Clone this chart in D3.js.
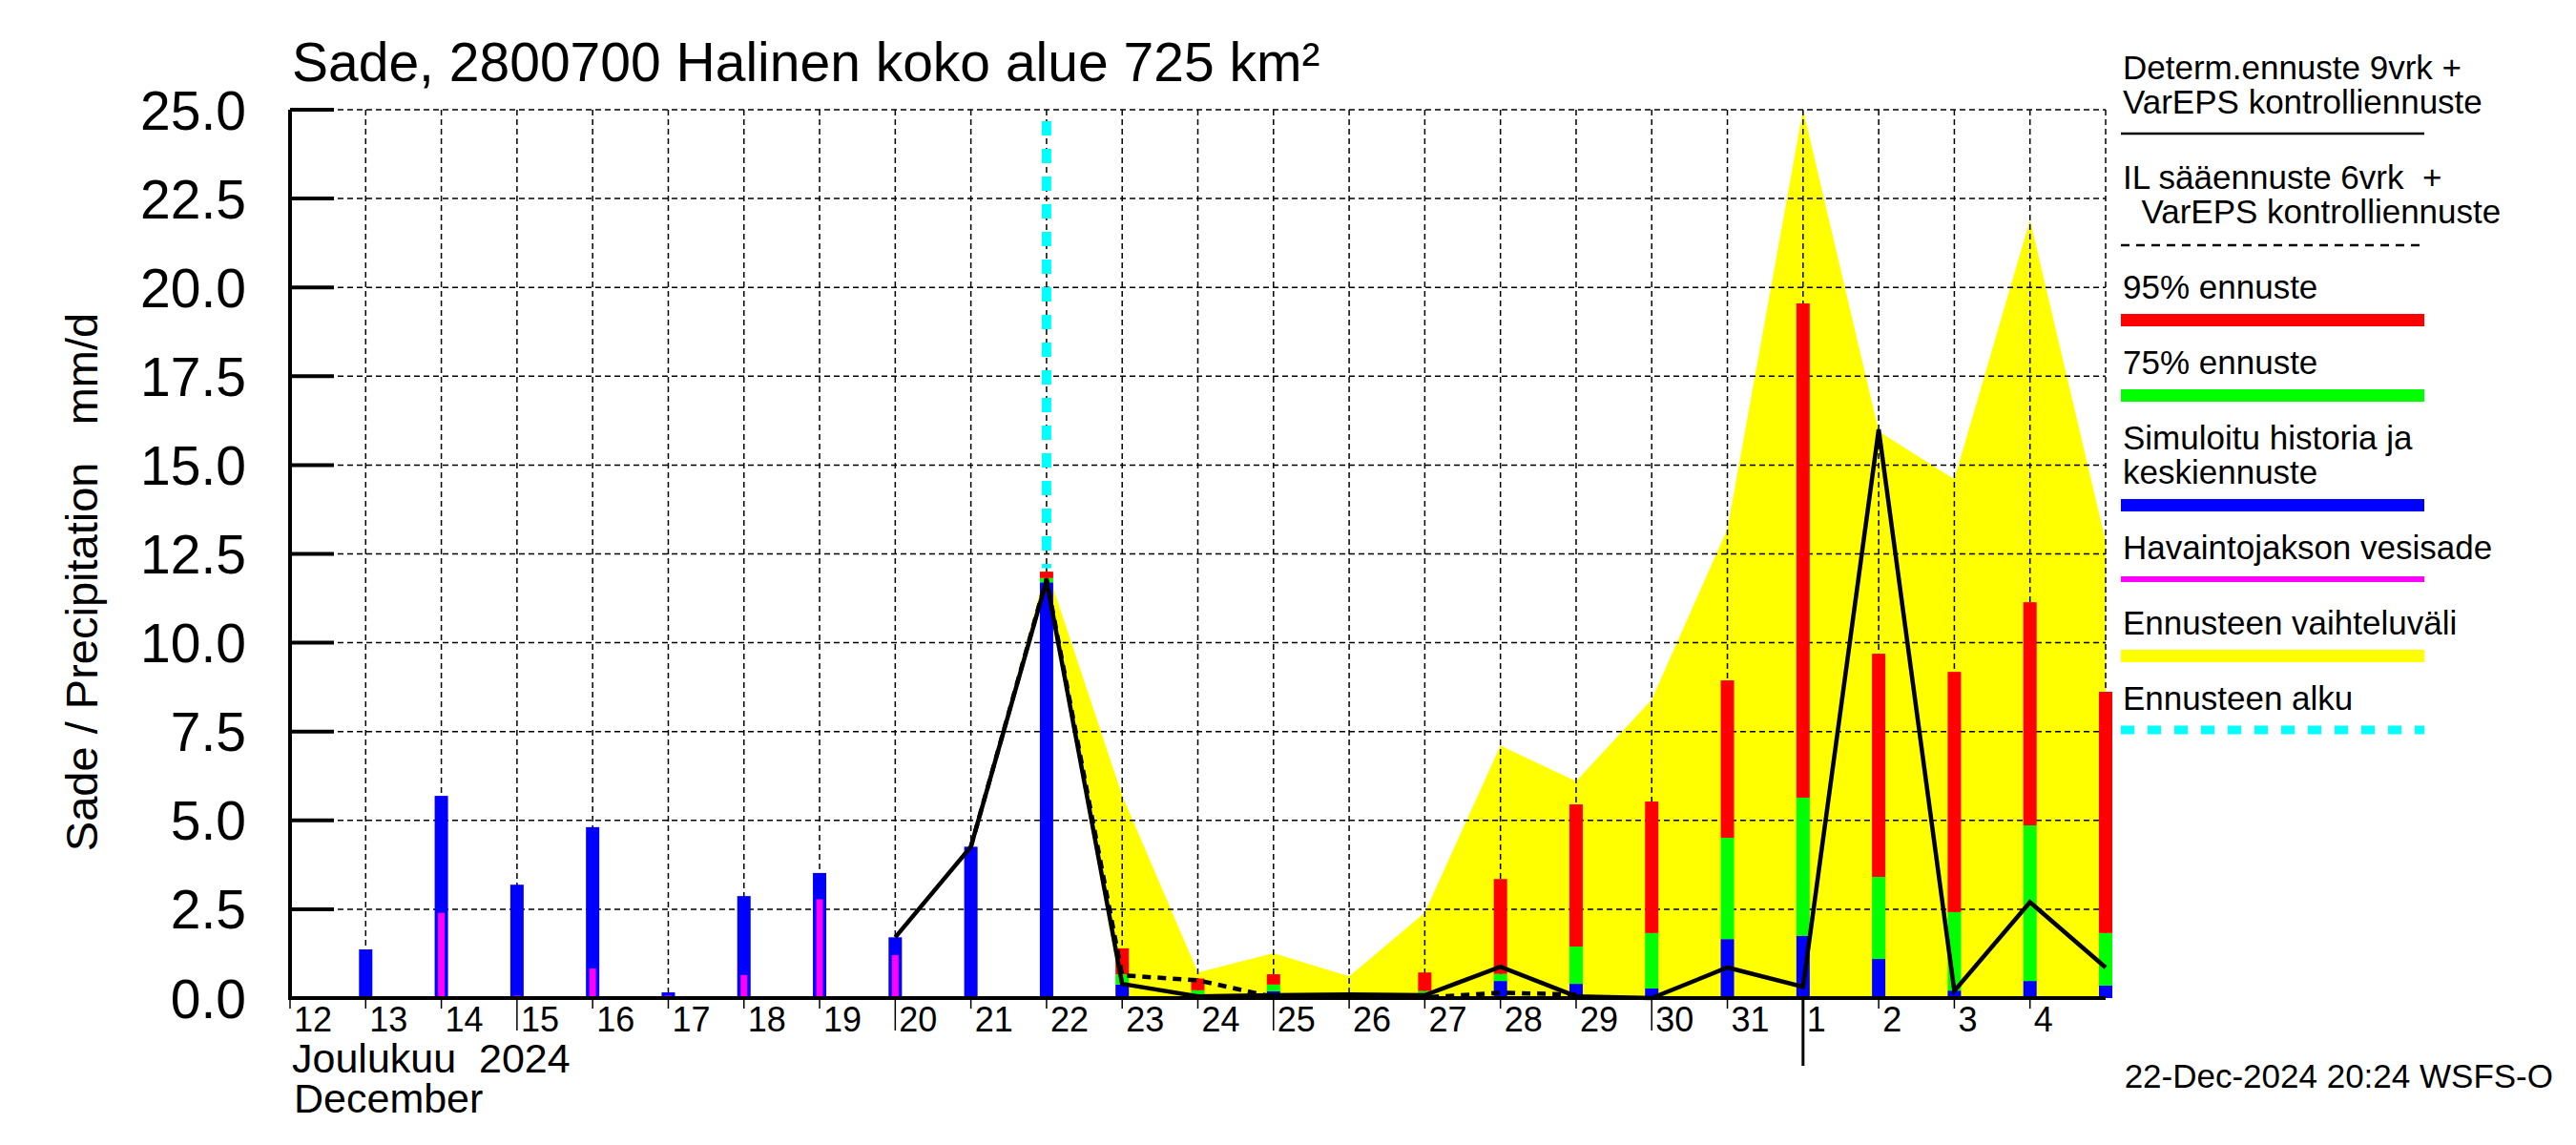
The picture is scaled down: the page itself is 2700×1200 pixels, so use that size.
<!DOCTYPE html>
<html>
<head>
<meta charset="utf-8">
<script src="https://cdn.jsdelivr.net/npm/d3@7"></script>
<style>
body { margin: 0; background: #fff; }
text { font-family: "Liberation Sans", Arial, sans-serif; fill: #000; }
</style>
</head>
<body>
<script>
// observed period (simulated precip + observed water precip)
var histDays = ["2024-12-13","2024-12-14","2024-12-15","2024-12-16","2024-12-17","2024-12-18","2024-12-19","2024-12-20","2024-12-21"]
var histSim  = [1.37, 5.69, 3.19, 4.81, 0.16, 2.87, 3.52, 1.71, 4.26]
var histObs  = [0.05, 2.40, 0.07, 0.83, 0.07, 0.65, 2.78, 1.21, 0]

// forecast bars
var fcDays = ["2024-12-22","2024-12-23","2024-12-24","2024-12-25","2024-12-26","2024-12-27","2024-12-28","2024-12-29","2024-12-30","2024-12-31","2025-01-01","2025-01-02","2025-01-03","2025-01-04","2025-01-05"]
var fcMean = [11.70, 0.38, 0.10, 0.19, 0.02, 0.10, 0.48, 0.40, 0.27, 1.66, 1.75, 1.10, 0.21, 0.48, 0.35]
var fc75   = [11.82, 0.67, 0.22, 0.38, 0.05, 0.20, 0.68, 1.45, 1.83, 4.51, 5.64, 3.41, 2.42, 4.86, 1.83]
var fc95   = [12.00, 1.40, 0.55, 0.67, 0.10, 0.72, 3.35, 5.45, 5.53, 8.94, 19.55, 9.69, 9.18, 11.14, 8.62]

// forecast range (yellow)
var bandDays = ["2024-12-21","2024-12-22","2024-12-23","2024-12-24","2024-12-25","2024-12-26","2024-12-27","2024-12-28","2024-12-29","2024-12-30","2024-12-31","2025-01-01","2025-01-02","2025-01-03","2025-01-04","2025-01-05"]
var bandMin = [4.26, 11.70, 0, 0, 0, 0, 0, 0, 0, 0, 0, 0, 0, 0, 0, 0]
var bandMax = [4.26, 12.10, 5.70, 0.72, 1.26, 0.61, 2.40, 7.10, 6.10, 8.40, 13.20, 25.00, 15.95, 14.60, 21.90, 12.85]

// determ. forecast (solid) and IL forecast (dashed)
var detDays = ["2024-12-20","2024-12-21","2024-12-22","2024-12-23","2024-12-24","2024-12-25","2024-12-26","2024-12-27","2024-12-28","2024-12-29","2024-12-30","2024-12-31","2025-01-01","2025-01-02","2025-01-03","2025-01-04","2025-01-05"]
var detVals = [1.71, 4.26, 11.75, 0.40, 0.05, 0.08, 0.10, 0.08, 0.88, 0.05, 0.00, 0.86, 0.32, 16.00, 0.20, 2.70, 0.86]
var ilDays = ["2024-12-21","2024-12-22","2024-12-23","2024-12-24","2024-12-25","2024-12-26","2024-12-27","2024-12-28","2024-12-29"]
var ilVals = [4.26, 11.80, 0.64, 0.50, 0.03, 0.03, 0.02, 0.15, 0.10]

var forecastStart = "2024-12-22"
var yTicks = [0, 2.5, 5, 7.5, 10, 12.5, 15, 17.5, 20, 22.5, 25]

var legendItems = [
  {lines: ["Determ.ennuste 9vrk +", "VarEPS kontrolliennuste"], type: "solid"},
  {lines: ["IL sääennuste 6vrk  +", "  VarEPS kontrolliennuste"], type: "dash"},
  {lines: ["95% ennuste"], type: "bar", color: "#ff0000"},
  {lines: ["75% ennuste"], type: "bar", color: "#00ff00"},
  {lines: ["Simuloitu historia ja", "keskiennuste"], type: "bar", color: "#0000ff"},
  {lines: ["Havaintojakson vesisade"], type: "thin", color: "#ff00ff"},
  {lines: ["Ennusteen vaihteluväli"], type: "bar", color: "#ffff00"},
  {lines: ["Ennusteen alku"], type: "cyan"}
]

var width = 2700
var height = 1200
var pLeft = 304, pRight = 2207, pTop = 115, pBottom = 1046
var parse = d3.timeParse("%Y-%m-%d")

var svg = d3.select("body").append("svg")
  .attr("width", width)
  .attr("height", height)

var x = d3.scaleTime()
  .domain([new Date(2024, 11, 12), new Date(2025, 0, 5)])
  .range([pLeft, pRight])
var y = d3.scaleLinear().domain([0, 25]).range([pBottom, pTop])

// yellow range
var area = d3.area()
  .x(function(d){ return x(parse(d.day)) })
  .y0(function(d){ return y(d.lo) })
  .y1(function(d){ return y(d.hi) })
var band = bandDays.map(function(d, i){ return {day: d, lo: bandMin[i], hi: bandMax[i]} })
svg.append("path").datum(band).attr("d", area).attr("fill", "#ffff00")

// grid
var days = d3.timeDay.range(new Date(2024, 11, 12), new Date(2025, 0, 6))
svg.append("g").selectAll("line")
  .data(days.slice(1))
  .enter().append("line")
  .attr("x1", function(d){ return x(d) }).attr("x2", function(d){ return x(d) })
  .attr("y1", pTop).attr("y2", pBottom)
  .attr("stroke", "#000").attr("stroke-width", 1.5).attr("stroke-dasharray", "6,4")
svg.append("g").selectAll("line")
  .data(yTicks.slice(1))
  .enter().append("line")
  .attr("x1", pLeft).attr("x2", pRight)
  .attr("y1", function(d){ return y(d) }).attr("y2", function(d){ return y(d) })
  .attr("stroke", "#000").attr("stroke-width", 1.5).attr("stroke-dasharray", "6,4")

// forecast start
var xs = x(parse(forecastStart))
svg.append("line")
  .attr("x1", xs).attr("x2", xs)
  .attr("y1", pTop + 12).attr("y2", y(12.1))
  .attr("stroke", "#00ffff").attr("stroke-width", 10).attr("stroke-dasharray", "15,14")

// history bars
var bw = 14
var hist = svg.append("g")
histDays.forEach(function(d, i){
  var cx = x(parse(d))
  hist.append("rect").attr("x", cx - bw/2).attr("width", bw)
    .attr("y", y(histSim[i])).attr("height", y(0) - y(histSim[i])).attr("fill", "#0000ff")
  if (histObs[i] > 0)
    hist.append("rect").attr("x", cx - 3.5).attr("width", 7)
      .attr("y", y(histObs[i])).attr("height", y(0) - y(histObs[i])).attr("fill", "#ff00ff")
})

// forecast bars
var fc = svg.append("g")
fcDays.forEach(function(d, i){
  var cx = x(parse(d))
  var segs = [[0, fcMean[i], "#0000ff"], [fcMean[i], fc75[i], "#00ff00"], [fc75[i], fc95[i], "#ff0000"]]
  segs.forEach(function(s){
    fc.append("rect").attr("x", cx - bw/2).attr("width", bw)
      .attr("y", y(s[1])).attr("height", y(s[0]) - y(s[1])).attr("fill", s[2])
  })
})

// lines
var line = d3.line()
  .x(function(d){ return x(parse(d[0])) })
  .y(function(d){ return y(d[1]) })
svg.append("path").datum(ilDays.map(function(d, i){ return [d, ilVals[i]] }))
  .attr("d", line).attr("fill", "none").attr("stroke", "#000")
  .attr("stroke-width", 4.5).attr("stroke-dasharray", "9,7")
svg.append("path").datum(detDays.map(function(d, i){ return [d, detVals[i]] }))
  .attr("d", line).attr("fill", "none").attr("stroke", "#000").attr("stroke-width", 4.5)

// axes
svg.append("line").attr("x1", pLeft).attr("x2", pLeft).attr("y1", pTop).attr("y2", pBottom + 2)
  .attr("stroke", "#000").attr("stroke-width", 4)
svg.append("line").attr("x1", pLeft - 2).attr("x2", pRight).attr("y1", pBottom).attr("y2", pBottom)
  .attr("stroke", "#000").attr("stroke-width", 4)
svg.append("g").selectAll("line").data(yTicks).enter().append("line")
  .attr("x1", pLeft).attr("x2", pLeft + 46)
  .attr("y1", function(d){ return y(d) }).attr("y2", function(d){ return y(d) })
  .attr("stroke", "#000").attr("stroke-width", 4)
svg.append("g").selectAll("text").data(yTicks).enter().append("text")
  .attr("x", 258).attr("y", function(d){ return y(d) }).attr("dy", "0.36em")
  .attr("text-anchor", "end").style("font-size", "57px")
  .text(function(d){ return d3.format(".1f")(d) })

// x ticks + labels
svg.append("g").selectAll("line").data(days.slice(0, -1)).enter().append("line")
  .attr("x1", function(d){ return x(d) }).attr("x2", function(d){ return x(d) })
  .attr("y1", pBottom).attr("y2", function(d){ return d.getDate() % 5 == 0 ? pBottom + 34 : pBottom + 11 })
  .attr("stroke", "#000").attr("stroke-width", 1.5)
svg.append("g").selectAll("text").data(days.slice(0, -1)).enter().append("text")
  .attr("x", function(d){ return x(d) + 4 }).attr("y", 1081)
  .style("font-size", "36px")
  .text(function(d){ return d.getDate() })
var m1 = x(new Date(2025, 0, 1))
svg.append("line").attr("x1", m1).attr("x2", m1).attr("y1", pBottom).attr("y2", 1117)
  .attr("stroke", "#000").attr("stroke-width", 3)
svg.append("text").attr("x", 306).attr("y", 1124).style("font-size", "43px")
  .style("white-space", "pre").text("Joulukuu  2024")
svg.append("text").attr("x", 308).attr("y", 1166).style("font-size", "43px").text("December")

// titles
svg.append("text").attr("x", 306).attr("y", 85).style("font-size", "57px")
  .text("Sade, 2800700 Halinen koko alue 725 km²")
svg.append("text").attr("transform", "translate(102,610) rotate(-90)")
  .attr("text-anchor", "middle").style("font-size", "47px").style("white-space", "pre")
  .text("Sade / Precipitation   mm/d")
svg.append("text").attr("x", 2676).attr("y", 1140).attr("text-anchor", "end")
  .style("font-size", "35px").text("22-Dec-2024 20:24 WSFS-O")

// legend
var lg = svg.append("g")
var ly = 83
legendItems.forEach(function(it){
  it.lines.forEach(function(t, j){
    lg.append("text").attr("x", 2225).attr("y", ly + j * 36)
      .style("font-size", "35px").style("white-space", "pre").text(t)
  })
  var sy = ly + (it.lines.length - 1) * 36
  if (it.type == "solid") {
    lg.append("line").attr("x1", 2223).attr("x2", 2541).attr("y1", sy + 21).attr("y2", sy + 21)
      .attr("stroke", "#000").attr("stroke-width", 2.5)
  } else if (it.type == "dash") {
    lg.append("line").attr("x1", 2223).attr("x2", 2541).attr("y1", sy + 23).attr("y2", sy + 23)
      .attr("stroke", "#000").attr("stroke-width", 2.5).attr("stroke-dasharray", "9,7")
  } else if (it.type == "bar") {
    lg.append("rect").attr("x", 2223).attr("width", 318).attr("y", sy + 16).attr("height", 13)
      .attr("fill", it.color)
  } else if (it.type == "thin") {
    lg.append("rect").attr("x", 2223).attr("width", 318).attr("y", sy + 18).attr("height", 6)
      .attr("fill", it.color)
  } else {
    lg.append("line").attr("x1", 2223).attr("x2", 2541).attr("y1", sy + 21).attr("y2", sy + 21)
      .attr("stroke", "#00ffff").attr("stroke-width", 9).attr("stroke-dasharray", "14,14")
  }
  ly = sy + 79
})
</script>
</body>
</html>
